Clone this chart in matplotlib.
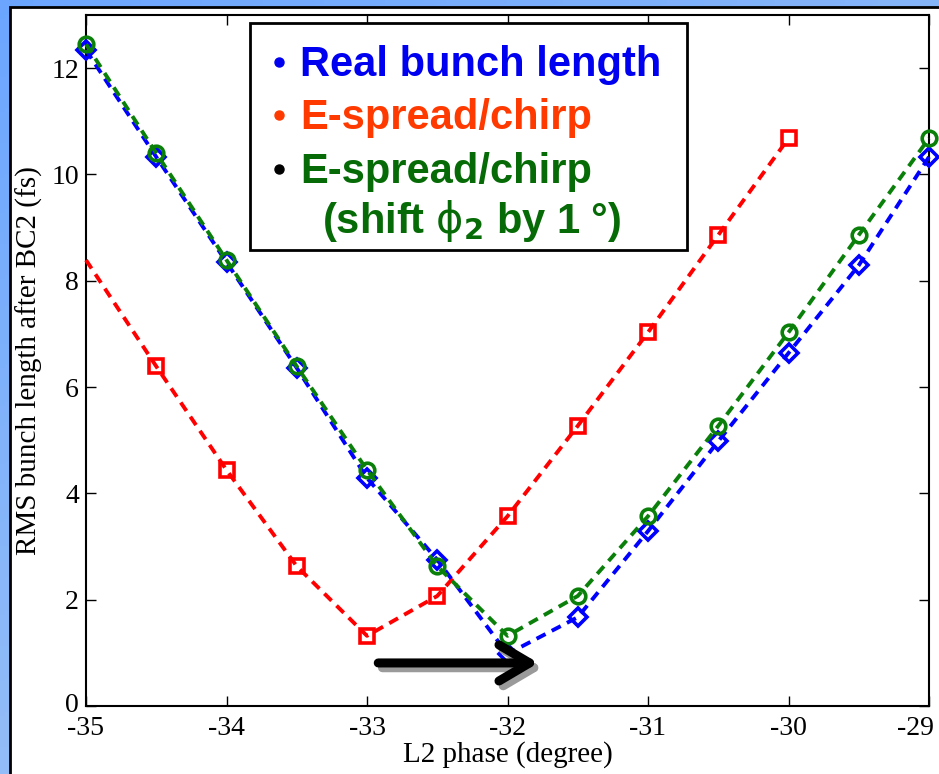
import numpy as np
import matplotlib
matplotlib.use("Agg")
import matplotlib.pyplot as plt
import matplotlib.transforms as mtransforms
from matplotlib.patches import Rectangle
from matplotlib.lines import Line2D

plt.rcParams["axes.unicode_minus"] = False

# L2 phase scan (degree)
phase = [-35, -34.5, -34, -33.5, -33, -32.5, -32, -31.5, -31, -30.5, -30, -29.5, -29]

# RMS bunch length after BC2 (fs)
real_len = [12.34, 10.33, 8.35, 6.36, 4.29, 2.75, 0.98, 1.67, 3.29, 4.98, 6.64, 8.29, 10.33]
shifted_len = [12.45, 10.40, 8.39, 6.39, 4.44, 2.63, 1.32, 2.07, 3.57, 5.27, 7.03, 8.86, 10.68]

phase_chirp = [-35, -34.5, -34, -33.5, -33, -32.5, -32, -31.5, -31, -30.5, -30]
chirp_len = [8.39, 6.39, 4.44, 2.63, 1.32, 2.07, 3.57, 5.27, 7.03, 8.86, 10.68]

legend_lines = ["Real bunch length", "E-spread/chirp", "E-spread/chirp",
                r"(shift $\mathrm{\phi}_\mathbf{2}$ by 1 °)"]

W, H = 939, 774
fig = plt.figure(figsize=(W / 100, H / 100), dpi=100)

def fx(px):
    return px / W

def fy(py):
    return 1 - py / H

# blue slide background
bg = fig.add_axes([0, 0, 1, 1], zorder=-10)
gx, gy = np.meshgrid(np.linspace(0, 1, 200), np.linspace(0, 1, 200))
t = np.clip(0.6 * gy + 0.4 * gx, 0, 1)
c0 = np.array([0.42, 0.65, 1.0])
c1 = np.array([0.68, 0.80, 0.95])
img = c0[None, None, :] * (1 - t[..., None]) + c1[None, None, :] * t[..., None]
bg.imshow(img, aspect="auto", extent=[0, 1, 0, 1])
bg.axis("off")
bg.add_patch(Rectangle((fx(9.5), -0.05), 1.2, fy(6.5) + 0.05, transform=fig.transFigure,
                       facecolor="white", edgecolor="black", lw=2))

ax = fig.add_axes([fx(86), fy(706), fx(929) - fx(86), fy(15) - fy(706)])
ax.set_xlim(-35, -29)
ax.set_ylim(0, 13)

dash = (0, (2.6, 1.8))
ax.plot(phase_chirp, chirp_len, color="#ff0000", ls=dash, lw=2.8, marker="s", ms=9.5,
        mfc="none", mew=2.6, markevery=slice(1, None), clip_on=False, zorder=3)
ax.plot(phase, real_len, color="#0000ff", ls=dash, lw=2.8, marker="D", ms=9,
        mfc="none", mew=2.6, clip_on=False, zorder=4)
ax.plot(phase, shifted_len, color="#0a800a", ls=dash, lw=2.8, marker="o", ms=10.5,
        mfc="none", mew=2.6, clip_on=False, zorder=5)

# arrow with a grey drop shadow
arrow_style = "->, head_length=1.1, head_width=0.65"
ax.annotate("", xy=(-31.75, 0.72), xytext=(-32.89, 0.72),
            arrowprops=dict(arrowstyle=arrow_style, lw=6.5, color="#9a9a9a",
                            shrinkA=0, shrinkB=0, mutation_scale=20), zorder=6)
ax.annotate("", xy=(-31.78, 0.81), xytext=(-32.92, 0.81),
            arrowprops=dict(arrowstyle=arrow_style, lw=6.5, color="black",
                            shrinkA=0, shrinkB=0, mutation_scale=20), zorder=7)

ax.set_xticks(range(-35, -28))
ax.set_yticks(range(0, 13, 2))
ax.tick_params(direction="in", length=7, width=1, top=True, right=True,
               labelsize=20)
ax.tick_params(axis="x", pad=7)
ax.tick_params(axis="y", pad=5)
for lab in ax.get_xticklabels() + ax.get_yticklabels():
    lab.set_fontfamily("Liberation Serif")
# keep the last x label inside the figure, lift the y "0" off the x labels
last = ax.get_xticklabels()[-1]
last.set_transform(last.get_transform() +
                   mtransforms.ScaledTranslation(-14 / 100, 0, fig.dpi_scale_trans))
zero = ax.get_yticklabels()[0]
zero.set_transform(zero.get_transform() +
                   mtransforms.ScaledTranslation(0, 4 / 100, fig.dpi_scale_trans))
for s in ax.spines.values():
    s.set_linewidth(1.5)

ax.set_xlabel("L2 phase (degree)", fontsize=21, family="Liberation Serif", labelpad=0)
ax.set_ylabel("RMS bunch length after BC2 (fs)", fontsize=21, family="Liberation Serif",
              labelpad=6)

# legend box
fig.add_artist(Rectangle((fx(250), fy(250)), fx(687) - fx(250), fy(23) - fy(250),
                         transform=fig.transFigure, facecolor="white",
                         edgecolor="black", lw=2, zorder=20))
colors = ["#0000f0", "#ff3a00", "#066b06", "#066b06"]
bullets = ["#0000f0", "#ff3a00", "black", None]
baselines = [76, 129, 183, 233]
starts = [300, 300, 300, 322]
for txt, col, bcol, yb, xs in zip(legend_lines, colors, bullets, baselines, starts):
    fig.text(fx(xs), fy(yb), txt, color=col, fontsize=30, fontweight="bold",
             family="Liberation Sans", va="baseline", ha="left", zorder=21)
    if bcol:
        fig.add_artist(Line2D([fx(279)], [fy(yb - 14)], marker="o", ms=6.5, color=bcol,
                              transform=fig.transFigure, zorder=21))

fig.savefig("out.png", dpi=100)
